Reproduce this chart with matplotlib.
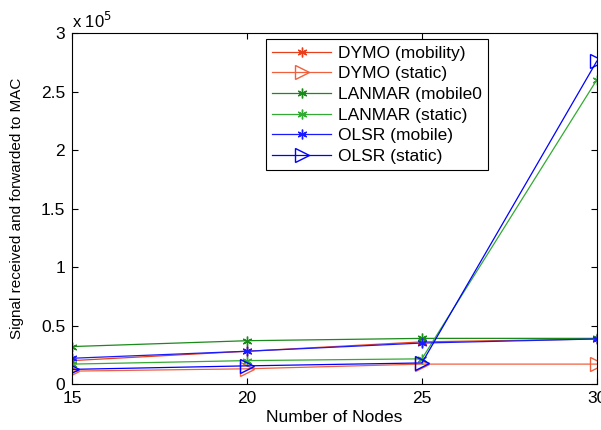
import matplotlib.pyplot as plt
import numpy as np
from matplotlib.ticker import FuncFormatter

plt.rcParams['font.family'] = ['Liberation Sans', 'DejaVu Sans']

# number of nodes
nodes = [15, 20, 25, 30]

# signals received and forwarded to MAC
dymo_mob = [0.20e5, 0.28e5, 0.36e5, 0.385e5]
dymo_sta = [0.11e5, 0.13e5, 0.17e5, 0.17e5]
lanmar_mob = [0.32e5, 0.37e5, 0.39e5, 0.39e5]
lanmar_sta = [0.17e5, 0.20e5, 0.215e5, 2.60e5]
olsr_mob = [0.22e5, 0.28e5, 0.35e5, 0.385e5]
olsr_sta = [0.125e5, 0.155e5, 0.18e5, 2.76e5]

labels = ['DYMO (mobility)', 'DYMO (static)', 'LANMAR (mobile0',
          'LANMAR (static)', 'OLSR (mobile)', 'OLSR (static)']

fig = plt.figure(figsize=(6.01, 4.3), dpi=100)
ax = fig.add_axes([0.12, 0.107, 0.873, 0.816])

star = (6, 2, 0)
ax.plot(nodes, dymo_mob, color='#e8401c', lw=0.9, marker=star, ms=7, label=labels[0])
ax.plot(nodes, dymo_sta, color='#f0603c', lw=0.9, marker='>', ms=10, mfc='none', label=labels[1])
ax.plot(nodes, lanmar_mob, color='#1a8a1a', lw=0.9, marker=star, ms=7, label=labels[2])
ax.plot(nodes, lanmar_sta, color='#33aa33', lw=0.9, marker=star, ms=7, label=labels[3])
ax.plot(nodes, olsr_mob, color='#1a1aff', lw=0.9, marker=star, ms=7, label=labels[4])
ax.plot(nodes, olsr_sta, color='#0000ff', lw=0.9, marker='>', ms=10, mfc='none', label=labels[5])

ax.set_xlim(15, 30)
ax.set_ylim(0, 3e5)
ax.set_xticks([15, 20, 25, 30])
ax.set_yticks(np.arange(0, 3.01e5, 0.5e5))
ax.yaxis.set_major_formatter(FuncFormatter(lambda v, p: '%g' % (v / 1e5)))
ax.tick_params(direction='in', top=True, right=True, labelsize=12.5, length=4, pad=5)
ax.set_xlabel('Number of Nodes', fontsize=12.5, labelpad=3)
ax.set_ylabel('Signal received and forwarded to MAC', fontsize=11, labelpad=12)
ax.text(0.0, 1.005, 'x 10$^5$', transform=ax.transAxes, fontsize=12, va='bottom')

leg = ax.legend(loc='upper left', bbox_to_anchor=(0.37, 0.982), borderaxespad=0,
                fontsize=12.5, fancybox=False, edgecolor='black', framealpha=1,
                handlelength=3.4, handletextpad=0.4, borderpad=0.35, labelspacing=0.32)
leg.get_frame().set_linewidth(0.8)

fig.savefig('out.png', dpi=100)
